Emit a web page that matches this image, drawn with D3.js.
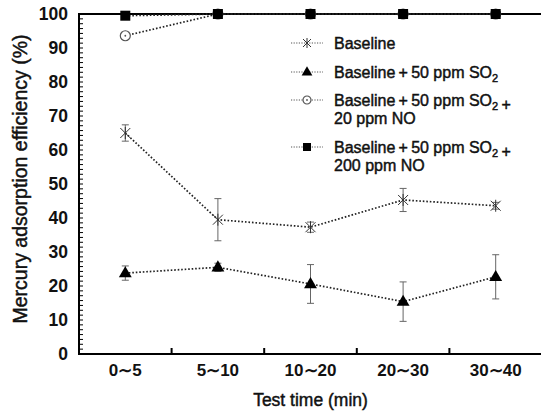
<!DOCTYPE html>
<html>
<head>
<meta charset="utf-8">
<script src="https://cdn.jsdelivr.net/npm/d3@7"></script>
<style>
  body { margin: 0; background: #fff; }
  svg { display: block; font-family: "Liberation Sans", Arial, sans-serif; }
  .medium { stroke: #111; stroke-width: 0.45px; fill: #111; }
</style>
</head>
<body>
<div id="chart"></div>
<script>
const categories = ['0∼5', '5∼10', '10∼20', '20∼30', '30∼40'];
const baseline = [65, 39.5, 37.3, 45.3, 43.6];
const baselineErr = [2.4, 6.2, 1.5, 3.4, 1];
const so2 = [23.8, 25.5, 20.6, 15.4, 22.7];
const so2Err = [2.1, 1.2, 5.7, 5.8, 6.5];
const so2No20 = [93.6, 100, 100, 100, 100];
const so2No20Err = [1, 0, 0, 0, 0];
const so2No200 = [99.5, 100, 100, 100, 100];
const so2No200Err = [0, 0, 0, 0, 0];
const yTicks = [0, 10, 20, 30, 40, 50, 60, 70, 80, 90, 100];
const legendLabels = [
  ['Baseline'],
  ['Baseline\u2009+\u200950 ppm SO_2'],
  ['Baseline\u2009+\u200950 ppm SO_2\u2009+', '20 ppm NO'],
  ['Baseline\u2009+\u200950 ppm SO_2\u2009+', '200 ppm NO'],
];

const canvasWidth = 541;
const canvasHeight = 412;
const margins = { top: 14, right: -1, bottom: 58, left: 79 };
const width = canvasWidth - margins.left - margins.right;
const height = canvasHeight - margins.top - margins.bottom;

const svg = d3.select('#chart')
  .append('svg')
    .attr('width', canvasWidth)
    .attr('height', canvasHeight)
    .attr('viewBox', `0 0 ${canvasWidth} ${canvasHeight}`);

const plot = svg.append('g')
  .attr('transform', `translate(${margins.left}, ${margins.top})`);

const scaleX = d3.scaleBand().domain(categories).range([0, width]);
const scaleY = d3.scaleLinear().domain([0, 100]).range([height, 0]);
const cx = c => scaleX(c) + scaleX.bandwidth() / 2;

// markers
function drawMarker(g, type, size) {
  const h = size / 2;
  if (type === 'star') {
    g.append('path')
      .attr('d', `M${-h},${-h}L${h},${h}M${-h},${h}L${h},${-h}M0,${-h - 1}L0,${h + 1}`)
      .attr('stroke', '#333').attr('stroke-width', 1).attr('fill', 'none');
  } else if (type === 'triangle') {
    g.append('path')
      .attr('d', d3.symbol(d3.symbolTriangle, size * size * 0.5)())
      .attr('transform', 'translate(0,0.5)')
      .attr('fill', '#000');
  } else if (type === 'circle') {
    g.append('circle').attr('r', h).attr('fill', '#fff')
      .attr('stroke', '#555').attr('stroke-width', 1.2);
    g.append('circle').attr('r', 0.9).attr('fill', '#555');
  } else {
    g.append('rect').attr('x', -h).attr('y', -h)
      .attr('width', size).attr('height', size).attr('fill', '#000');
  }
}

const series = [
  { values: baseline, err: baselineErr, marker: 'star', size: 10 },
  { values: so2, err: so2Err, marker: 'triangle', size: 12 },
  { values: so2No20, err: so2No20Err, marker: 'circle', size: 10 },
  { values: so2No200, err: so2No200Err, marker: 'square', size: 10 },
];

// y minor ticks (inside)
const minorTicks = d3.range(0, 100.001, 10 / 7);
plot.append('g')
  .selectAll('line')
  .data(minorTicks)
  .enter()
  .append('line')
    .attr('x1', 0).attr('x2', 4)
    .attr('y1', d => scaleY(d)).attr('y2', d => scaleY(d))
    .attr('stroke', '#000').attr('stroke-width', 1);

// y axis labels
const axisY = d3.axisLeft(scaleY).tickValues(yTicks).tickSize(0).tickPadding(11);
const yAxis = plot.append('g').call(axisY);
yAxis.select('.domain').remove();
yAxis.selectAll('.tick text')
  .attr('font-size', 17.5).attr('font-weight', 'bold')
  .attr('font-family', '"Liberation Sans", Arial, sans-serif')
  .attr('fill', '#111');

// x axis labels
const axisX = d3.axisBottom(scaleX).tickSize(0).tickPadding(10);
const xAxis = plot.append('g').attr('transform', `translate(0, ${height})`).call(axisX);
xAxis.select('.domain').remove();
xAxis.selectAll('.tick text')
  .attr('font-size', 17).attr('font-weight', 'bold')
  .attr('font-family', '"Liberation Sans", Arial, sans-serif')
  .attr('fill', '#111');

// x separator ticks (between categories)
plot.append('g')
  .selectAll('line')
  .data(categories.slice(1))
  .enter()
  .append('line')
    .attr('x1', d => scaleX(d)).attr('x2', d => scaleX(d))
    .attr('y1', height).attr('y2', height - 6)
    .attr('stroke', '#000').attr('stroke-width', 2);

// frame
plot.append('path')
  .attr('d', `M${width},0H0V${height}H${width}`)
  .attr('fill', 'none').attr('stroke', '#000').attr('stroke-width', 2);

// error bars
series.forEach(s => {
  const g = plot.append('g');
  s.values.forEach((v, i) => {
    if (!s.err[i]) return;
    const x = cx(categories[i]);
    const y1 = scaleY(v + s.err[i]);
    const y2 = scaleY(v - s.err[i]);
    g.append('path')
      .attr('d', `M${x},${y1}V${y2}M${x - 3.5},${y1}H${x + 3.5}M${x - 3.5},${y2}H${x + 3.5}`)
      .attr('stroke', '#666').attr('stroke-width', 1).attr('fill', 'none');
  });
});

// lines and markers
const line = d3.line()
  .x((d, i) => cx(categories[i]))
  .y(d => scaleY(d));

series.forEach(s => {
  plot.append('path')
    .datum(s.values)
    .attr('d', line)
    .attr('fill', 'none')
    .attr('stroke', '#222')
    .attr('stroke-width', 1.7)
    .attr('stroke-dasharray', '1.6,1.9');
  s.values.forEach((v, i) => {
    const g = plot.append('g')
      .attr('transform', `translate(${cx(categories[i])}, ${scaleY(v)})`);
    drawMarker(g, s.marker, s.size);
  });
});

// axis titles
svg.append('text')
  .attr('class', 'medium')
  .attr('x', margins.left + width / 2)
  .attr('y', 406)
  .attr('text-anchor', 'middle')
  .attr('font-size', 17.5)
  .text('Test time (min)');

svg.append('text')
  .attr('class', 'medium')
  .attr('transform', `translate(27, ${margins.top + height / 2 - 5}) rotate(-90)`)
  .attr('text-anchor', 'middle')
  .attr('font-size', 19.5)
  .text('Mercury adsorption efficiency (%)');

// legend
const legend = svg.append('g').attr('transform', 'translate(291, 43)');
const rowY = [0, 29, 57, 104];
legendLabels.forEach((lines, i) => {
  const row = legend.append('g').attr('transform', `translate(0, ${rowY[i]})`);
  row.append('line')
    .attr('x1', 0).attr('x2', 32)
    .attr('stroke', '#555').attr('stroke-width', 1)
    .attr('stroke-dasharray', '1.2,1.4');
  const m = row.append('g').attr('transform', 'translate(16, 0)');
  drawMarker(m, series[i].marker, series[i].marker === 'triangle' ? 10 : 8);
  lines.forEach((txt, j) => {
    const t = row.append('text')
      .attr('class', 'medium')
      .attr('x', 43)
      .attr('y', j * 18)
      .attr('dy', '0.35em')
      .attr('font-size', 16);
    txt.split(/(_2)/).forEach(part => {
      if (part === '_2') {
        t.append('tspan').attr('font-size', 11).attr('dy', 4).text('2');
        t.append('tspan').attr('dy', -4).text('');
      } else {
        t.append('tspan').text(part);
      }
    });
  });
});
</script>
</body>
</html>
